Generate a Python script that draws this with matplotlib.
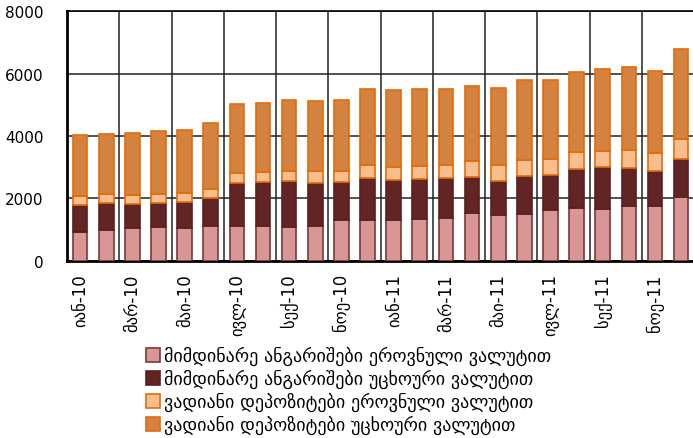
import matplotlib.pyplot as plt
import numpy as np

plt.rcParams['font.family'] = ['DejaVu Sans']

months = ['იან-10', 'თებ-10', 'მარ-10', 'აპრ-10', 'მაი-10', 'ივნ-10',
          'ივლ-10', 'აგვ-10', 'სექ-10', 'ოქტ-10', 'ნოე-10', 'დეკ-10',
          'იან-11', 'თებ-11', 'მარ-11', 'აპრ-11', 'მაი-11', 'ივნ-11',
          'ივლ-11', 'აგვ-11', 'სექ-11', 'ოქტ-11', 'ნოე-11', 'დეკ-11']

cur_gel = [905, 990, 1035, 1075, 1055, 1110, 1110, 1110, 1085, 1110, 1290, 1310,
           1310, 1330, 1355, 1525, 1460, 1495, 1620, 1675, 1665, 1740, 1740, 2050]
cur_fx = [885, 855, 780, 760, 815, 885, 1370, 1400, 1455, 1370, 1220, 1340,
          1275, 1275, 1295, 1165, 1100, 1230, 1125, 1260, 1345, 1230, 1145, 1210]
dep_gel = [290, 290, 290, 300, 300, 300, 330, 340, 350, 395, 365, 425,
           430, 440, 425, 505, 515, 510, 515, 545, 505, 565, 570, 640]
dep_fx = [1950, 1935, 2000, 2030, 2030, 2130, 2225, 2215, 2270, 2245, 2280, 2430,
          2460, 2450, 2440, 2420, 2470, 2560, 2535, 2575, 2640, 2670, 2615, 2890]

labels = ['მიმდინარე ანგარიშები ეროვნული ვალუტით',
          'მიმდინარე ანგარიშები უცხოური ვალუტით',
          'ვადიანი დეპოზიტები ეროვნული ვალუტით',
          'ვადიანი დეპოზიტები უცხოური ვალუტით']

fig = plt.figure(figsize=(6.93, 4.39), dpi=100)
ax = fig.add_axes([0.0967, 0.404, 0.905, 0.568])

x = np.arange(len(months))
w = 0.56
series = [cur_gel, cur_fx, dep_gel, dep_fx]
fills = ['#D99694', '#632523', '#F9BE8E', '#D4823F']
edges = ['#7B3A3A', '#5A2020', '#E46C0A', '#E46C0A']
bottom = np.zeros(len(months))
for vals, fc, ec, lab in zip(series, fills, edges, labels):
    ax.bar(x, vals, w, bottom=bottom, color=fc, edgecolor=ec, linewidth=1.2,
           label=lab, zorder=3)
    bottom += np.array(vals)

ax.set_xlim(-0.5, 23.5)
ax.set_ylim(0, 8000)
ax.set_yticks([0, 2000, 4000, 6000, 8000])
ax.set_xticks(x[::2])
ax.set_xticklabels(months[::2], rotation=90, va='top', ha='center')
ax.set_xticks(np.arange(1.5, 23.5, 2), minor=True)
ax.grid(False)
ax.grid(True, which='minor', axis='x', color='#222222', linewidth=1.1, zorder=0)
ax.grid(True, which='major', axis='y', color='#222222', linewidth=1.1, zorder=0)
ax.tick_params(axis='y', length=0, pad=17, labelsize=11)
ax.tick_params(axis='x', which='both', length=0, pad=9, labelsize=12)

for s in ['left', 'bottom']:
    ax.spines[s].set_linewidth(2)
    ax.spines[s].set_color('black')
ax.spines['top'].set_linewidth(1.2)
ax.spines['right'].set_visible(False)

fig.legend(loc='upper center', bbox_to_anchor=(0.503, 0.23), ncol=1,
           frameon=False, fontsize=13, labelspacing=0.2, handlelength=0.8,
           handleheight=0.8, handletextpad=0.2, borderpad=0)

fig.savefig('out.png', dpi=100)
